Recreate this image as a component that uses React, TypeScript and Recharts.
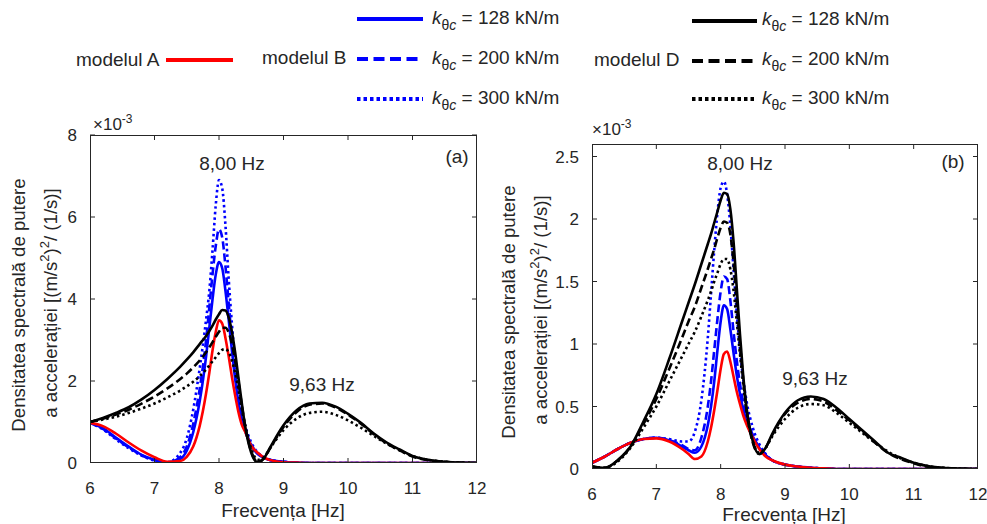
import React from 'react';
import { LineChart, Line, XAxis, YAxis } from 'recharts';

// frequency grid [Hz], shared by both panels
const FREQ = [6, 6.2, 6.4, 6.6, 6.8, 7, 7.2, 7.4, 7.5, 7.6, 7.7, 7.8, 7.85, 7.9, 7.95, 8, 8.05, 8.1, 8.15, 8.2, 8.25, 8.3, 8.35, 8.4, 8.5, 8.6, 8.7, 8.8, 9, 9.2, 9.4, 9.6, 9.8, 10, 10.2, 10.4, 10.6, 10.8, 11, 11.2, 11.5, 12];

const X_TICKS = [6, 7, 8, 9, 10, 11, 12];
const Y_TICKS_A = [0, 2, 4, 6, 8];
const Y_TICKS_B = [0, 0.5, 1, 1.5, 2, 2.5];

// panel (a), values x 10^-3
const A_MODEL_A = [0.98, 0.9, 0.72, 0.5, 0.3, 0.14, 0.03, 0.05, 0.15, 0.4, 0.9, 1.7, 2.2, 2.75, 3.2, 3.48, 3.4, 3.05, 2.6, 2.1, 1.65, 1.25, 0.95, 0.78, 0.42, 0.25, 0.13, 0.07, 0.02, 0.01, 0, 0, 0, 0, 0, 0, 0, 0, 0, 0, 0, 0];
const A_B128 = [0.98, 0.85, 0.62, 0.4, 0.2, 0.08, 0.01, 0.1, 0.3, 0.75, 1.5, 2.6, 3.3, 4.0, 4.6, 4.9, 4.75, 4.2, 3.5, 2.75, 2.05, 1.5, 1.1, 0.8, 0.42, 0.22, 0.12, 0.07, 0.03, 0.01, 0, 0, 0, 0, 0, 0, 0, 0, 0, 0, 0, 0];
const A_B200 = [0.98, 0.83, 0.6, 0.38, 0.19, 0.07, 0.01, 0.15, 0.4, 0.95, 1.8, 3.0, 3.8, 4.6, 5.3, 5.7, 5.5, 4.8, 3.9, 3.0, 2.2, 1.6, 1.15, 0.85, 0.45, 0.24, 0.13, 0.07, 0.03, 0.01, 0, 0, 0, 0, 0, 0, 0, 0, 0, 0, 0, 0];
const A_B300 = [0.98, 0.82, 0.58, 0.36, 0.18, 0.06, 0.02, 0.25, 0.6, 1.3, 2.3, 3.5, 4.2, 5.2, 6.3, 6.9, 6.7, 5.8, 4.5, 3.4, 2.5, 1.8, 1.3, 0.95, 0.5, 0.26, 0.14, 0.08, 0.03, 0.01, 0, 0, 0, 0, 0, 0, 0, 0, 0, 0, 0, 0];
const A_D128 = [1.0, 1.1, 1.22, 1.36, 1.55, 1.78, 2.05, 2.35, 2.52, 2.7, 2.9, 3.1, 3.22, 3.35, 3.5, 3.63, 3.73, 3.72, 3.55, 3.2, 2.7, 2.1, 1.5, 0.95, 0.25, 0.02, 0.12, 0.4, 0.92, 1.28, 1.45, 1.47, 1.38, 1.2, 0.98, 0.72, 0.5, 0.33, 0.17, 0.09, 0.03, 0];
const A_D200 = [1.0, 1.08, 1.18, 1.3, 1.45, 1.62, 1.82, 2.05, 2.18, 2.33, 2.5, 2.7, 2.82, 2.95, 3.08, 3.2, 3.3, 3.3, 3.18, 2.9, 2.5, 2.0, 1.45, 0.95, 0.28, 0.03, 0.12, 0.38, 0.88, 1.24, 1.42, 1.45, 1.36, 1.18, 0.96, 0.7, 0.48, 0.31, 0.16, 0.08, 0.03, 0];
const A_D300 = [1.0, 1.06, 1.13, 1.22, 1.33, 1.45, 1.6, 1.77, 1.87, 1.98, 2.12, 2.28, 2.38, 2.48, 2.58, 2.68, 2.76, 2.78, 2.7, 2.5, 2.2, 1.8, 1.35, 0.95, 0.35, 0.08, 0.15, 0.38, 0.8, 1.08, 1.22, 1.25, 1.18, 1.04, 0.86, 0.66, 0.47, 0.31, 0.17, 0.09, 0.03, 0];

// panel (b), values x 10^-3
const B_MODEL_A = [0.05, 0.1, 0.16, 0.21, 0.24, 0.245, 0.22, 0.16, 0.12, 0.08, 0.1, 0.22, 0.33, 0.47, 0.63, 0.8, 0.92, 0.94, 0.86, 0.74, 0.62, 0.52, 0.43, 0.36, 0.25, 0.16, 0.1, 0.07, 0.035, 0.02, 0.01, 0.005, 0, 0, 0, 0, 0, 0, 0, 0, 0, 0];
const B_B128 = [0.05, 0.1, 0.16, 0.21, 0.24, 0.25, 0.23, 0.18, 0.15, 0.13, 0.18, 0.35, 0.5, 0.7, 0.95, 1.18, 1.31, 1.28, 1.12, 0.93, 0.75, 0.6, 0.48, 0.39, 0.26, 0.17, 0.11, 0.07, 0.035, 0.02, 0.01, 0.005, 0, 0, 0, 0, 0, 0, 0, 0, 0, 0];
const B_B200 = [0.05, 0.1, 0.16, 0.21, 0.24, 0.25, 0.23, 0.19, 0.16, 0.15, 0.25, 0.5, 0.7, 0.95, 1.2, 1.42, 1.54, 1.52, 1.35, 1.1, 0.87, 0.68, 0.53, 0.42, 0.27, 0.17, 0.11, 0.07, 0.035, 0.02, 0.01, 0.005, 0, 0, 0, 0, 0, 0, 0, 0, 0, 0];
const B_B300 = [0.05, 0.1, 0.16, 0.21, 0.24, 0.25, 0.24, 0.22, 0.22, 0.3, 0.55, 1.05, 1.4, 1.75, 2.05, 2.25, 2.3, 2.2, 1.95, 1.6, 1.25, 0.95, 0.72, 0.55, 0.33, 0.2, 0.12, 0.07, 0.035, 0.02, 0.01, 0.005, 0, 0, 0, 0, 0, 0, 0, 0, 0, 0];
const B_D128 = [0.02, 0.01, 0.07, 0.18, 0.38, 0.6, 0.88, 1.18, 1.33, 1.48, 1.64, 1.8, 1.88, 1.97, 2.06, 2.15, 2.21, 2.2, 2.08, 1.82, 1.45, 1.08, 0.75, 0.5, 0.22, 0.12, 0.17, 0.28, 0.45, 0.55, 0.58, 0.56, 0.49, 0.4, 0.31, 0.22, 0.13, 0.09, 0.05, 0.025, 0.008, 0];
const B_D200 = [0.02, 0.01, 0.07, 0.18, 0.36, 0.56, 0.8, 1.05, 1.18, 1.3, 1.45, 1.6, 1.68, 1.76, 1.85, 1.93, 1.98, 1.97, 1.88, 1.65, 1.33, 1.0, 0.72, 0.48, 0.21, 0.12, 0.17, 0.27, 0.44, 0.53, 0.56, 0.54, 0.47, 0.39, 0.3, 0.21, 0.13, 0.08, 0.045, 0.02, 0.007, 0];
const B_D300 = [0.02, 0.01, 0.06, 0.17, 0.33, 0.5, 0.7, 0.9, 1.0, 1.1, 1.22, 1.35, 1.42, 1.5, 1.57, 1.64, 1.68, 1.68, 1.6, 1.43, 1.18, 0.92, 0.68, 0.47, 0.22, 0.13, 0.17, 0.26, 0.4, 0.49, 0.52, 0.51, 0.45, 0.37, 0.29, 0.21, 0.14, 0.085, 0.05, 0.025, 0.008, 0];

const FONT = '"Liberation Sans", Arial, Helvetica, sans-serif';
const INK = '#262626';
const BLUE = '#0000ff';
const RED = '#ff0000';
const BLACK = '#000000';
const DASH = '8 4';
const DOT = '2.5 3';

// drawing order: blue, red, black on top
const SERIES = [
  { key: 'b300', color: BLUE, dash: DOT },
  { key: 'b200', color: BLUE, dash: DASH },
  { key: 'b128', color: BLUE, dash: undefined },
  { key: 'mA', color: RED, dash: undefined },
  { key: 'd300', color: BLACK, dash: DOT },
  { key: 'd200', color: BLACK, dash: DASH },
  { key: 'd128', color: BLACK, dash: undefined },
];

const rowsA = FREQ.map((f, i) => ({
  f, mA: A_MODEL_A[i], b128: A_B128[i], b200: A_B200[i], b300: A_B300[i],
  d128: A_D128[i], d200: A_D200[i], d300: A_D300[i],
}));
const rowsB = FREQ.map((f, i) => ({
  f, mA: B_MODEL_A[i], b128: B_B128[i], b200: B_B200[i], b300: B_B300[i],
  d128: B_D128[i], d200: B_D200[i], d300: B_D300[i],
}));

const tickStyle = { fill: INK, fontSize: 17, fontFamily: FONT };

// box with MATLAB-style inward ticks on all four sides; plot = [left, top, right, bottom] in page px
function Frame({ plot, yDomain, yTicks }: any) {
  const [l, t, r, b] = plot;
  const xs = X_TICKS.map((v) => l + ((v - 6) / 6) * (r - l));
  const ys = yTicks.map((v: number) => b - ((v - yDomain[0]) / (yDomain[1] - yDomain[0])) * (b - t));
  return (
    <g stroke={INK} strokeWidth={1} fill="none">
      <rect x={l + 0.5} y={t + 0.5} width={r - l - 1} height={b - t - 1} />
      {xs.slice(1, -1).map((x, i) => (
        <g key={`x${i}`}>
          <line x1={x} x2={x} y1={t} y2={t + 5} />
          <line x1={x} x2={x} y1={b - 5} y2={b} />
        </g>
      ))}
      {ys.slice(1).map((y: number, i: number) => (
        <g key={`y${i}`}>
          <line x1={l} x2={l + 5} y1={y} y2={y} />
          <line x1={r - 5} x2={r} y1={y} y2={y} />
        </g>
      ))}
    </g>
  );
}

function Panel({ rows, box, margin, yDomain, yTicks }: any) {
  return (
    <div style={{ position: 'absolute', left: box.x, top: box.y }}>
      <LineChart width={box.w} height={box.h} data={rows} margin={margin}>
        <XAxis dataKey="f" type="number" domain={[6, 12]} ticks={X_TICKS} allowDataOverflow height={30}
          tickLine={false} axisLine={false} tickMargin={13} tick={tickStyle} />
        <YAxis type="number" domain={yDomain} ticks={yTicks} allowDataOverflow width={50}
          tickLine={false} axisLine={false} tickMargin={7} tick={tickStyle} />
        {SERIES.map((s) => (
          <Line key={s.key} dataKey={s.key} type="monotone" stroke={s.color} strokeWidth={2.6}
            strokeDasharray={s.dash} dot={false} isAnimationActive={false} />
        ))}
      </LineChart>
    </div>
  );
}

function KLabel({ x, y, value }: { x: number; y: number; value: string }) {
  return (
    <text x={x} y={y} fontSize={19} fill={INK} fontFamily={FONT}>
      <tspan fontStyle="italic">k</tspan>
      <tspan dy={6} fontSize={14}>θ</tspan>
      <tspan fontStyle="italic" fontSize={14}>c</tspan>
      <tspan dy={-6}>{` = ${value} kN/m`}</tspan>
    </text>
  );
}

function YLabel({ x1, x2, cy }: { x1: number; x2: number; cy: number }) {
  return (
    <g fontSize={18.6} fill={INK} fontFamily={FONT}>
      <text transform={`translate(${x1},${cy}) rotate(-90)`} textAnchor="middle">Densitatea spectrală de putere</text>
      <text transform={`translate(${x2},${cy - 2}) rotate(-90)`} textAnchor="middle">
        a accelerației [(m/s<tspan dy={-8} fontSize={13}>2</tspan><tspan dy={8}>)</tspan>
        <tspan dy={-8} fontSize={13}>2</tspan><tspan dy={8}>/ (1/s)]</tspan>
      </text>
    </g>
  );
}

function Exponent({ x, y }: { x: number; y: number }) {
  return (
    <text x={x} y={y} fontSize={17} fill={INK} fontFamily={FONT}>
      ×10<tspan dy={-7} fontSize={12}>-3</tspan>
    </text>
  );
}

export default function App() {
  const txt = { fill: INK, fontFamily: FONT };
  return (
    <div style={{ position: 'absolute', left: 0, top: 0, width: 987, height: 524, background: '#fff' }}>
      <Panel rows={rowsA} box={{ x: 0, y: 120, w: 490, h: 404 }}
        margin={{ top: 15, right: 13, bottom: 31, left: 40 }} yDomain={[0, 8]} yTicks={Y_TICKS_A} />
      <Panel rows={rowsB} box={{ x: 490, y: 110, w: 497, h: 414 }}
        margin={{ top: 34, right: 9, bottom: 25, left: 52 }} yDomain={[0, 2.6]} yTicks={Y_TICKS_B} />

      <svg width={987} height={524} style={{ position: 'absolute', left: 0, top: 0, pointerEvents: 'none' }}>
        <Frame plot={[90, 135, 477, 463]} yDomain={[0, 8]} yTicks={Y_TICKS_A} />
        <Frame plot={[592, 144, 978, 469]} yDomain={[0, 2.6]} yTicks={Y_TICKS_B} />

        {/* legend */}
        <text x={76} y={66} fontSize={19} {...txt}>modelul A</text>
        <line x1={166} x2={233} y1={60} y2={60} stroke={RED} strokeWidth={4} />
        <text x={262} y={64} fontSize={19} {...txt}>modelul B</text>
        <line x1={357} x2={423} y1={19} y2={19} stroke={BLUE} strokeWidth={4} />
        <line x1={357} x2={423} y1={59} y2={59} stroke={BLUE} strokeWidth={4} strokeDasharray="11 5.5" />
        <line x1={357} x2={423} y1={99} y2={99} stroke={BLUE} strokeWidth={4} strokeDasharray="3.5 3" />
        <KLabel x={432} y={24} value="128" />
        <KLabel x={432} y={64} value="200" />
        <KLabel x={432} y={104} value="300" />
        <text x={594} y={66} fontSize={19} {...txt}>modelul D</text>
        <line x1={692} x2={757} y1={21} y2={21} stroke={BLACK} strokeWidth={4} />
        <line x1={692} x2={757} y1={61} y2={61} stroke={BLACK} strokeWidth={4} strokeDasharray="11 5.5" />
        <line x1={692} x2={757} y1={99} y2={99} stroke={BLACK} strokeWidth={4} strokeDasharray="3.5 3" />
        <KLabel x={762} y={25} value="128" />
        <KLabel x={762} y={65} value="200" />
        <KLabel x={762} y={104} value="300" />

        {/* panel (a) texts */}
        <Exponent x={93} y={130} />
        <YLabel x1={25} x2={57} cy={305} />
        <text x={283} y={517} fontSize={19} textAnchor="middle" {...txt}>Frecvența [Hz]</text>
        <text x={232} y={170} fontSize={19} textAnchor="middle" {...txt}>8,00 Hz</text>
        <text x={322} y={391} fontSize={19} textAnchor="middle" {...txt}>9,63 Hz</text>
        <text x={457} y={163} fontSize={19} textAnchor="middle" {...txt}>(a)</text>

        {/* panel (b) texts */}
        <Exponent x={592} y={135} />
        <YLabel x1={515} x2={547} cy={312} />
        <text x={784} y={521} fontSize={19} textAnchor="middle" {...txt}>Frecvența [Hz]</text>
        <text x={740} y={170} fontSize={19} textAnchor="middle" {...txt}>8,00 Hz</text>
        <text x={815} y={385} fontSize={19} textAnchor="middle" {...txt}>9,63 Hz</text>
        <text x={953} y={168} fontSize={19} textAnchor="middle" {...txt}>(b)</text>
      </svg>
    </div>
  );
}
